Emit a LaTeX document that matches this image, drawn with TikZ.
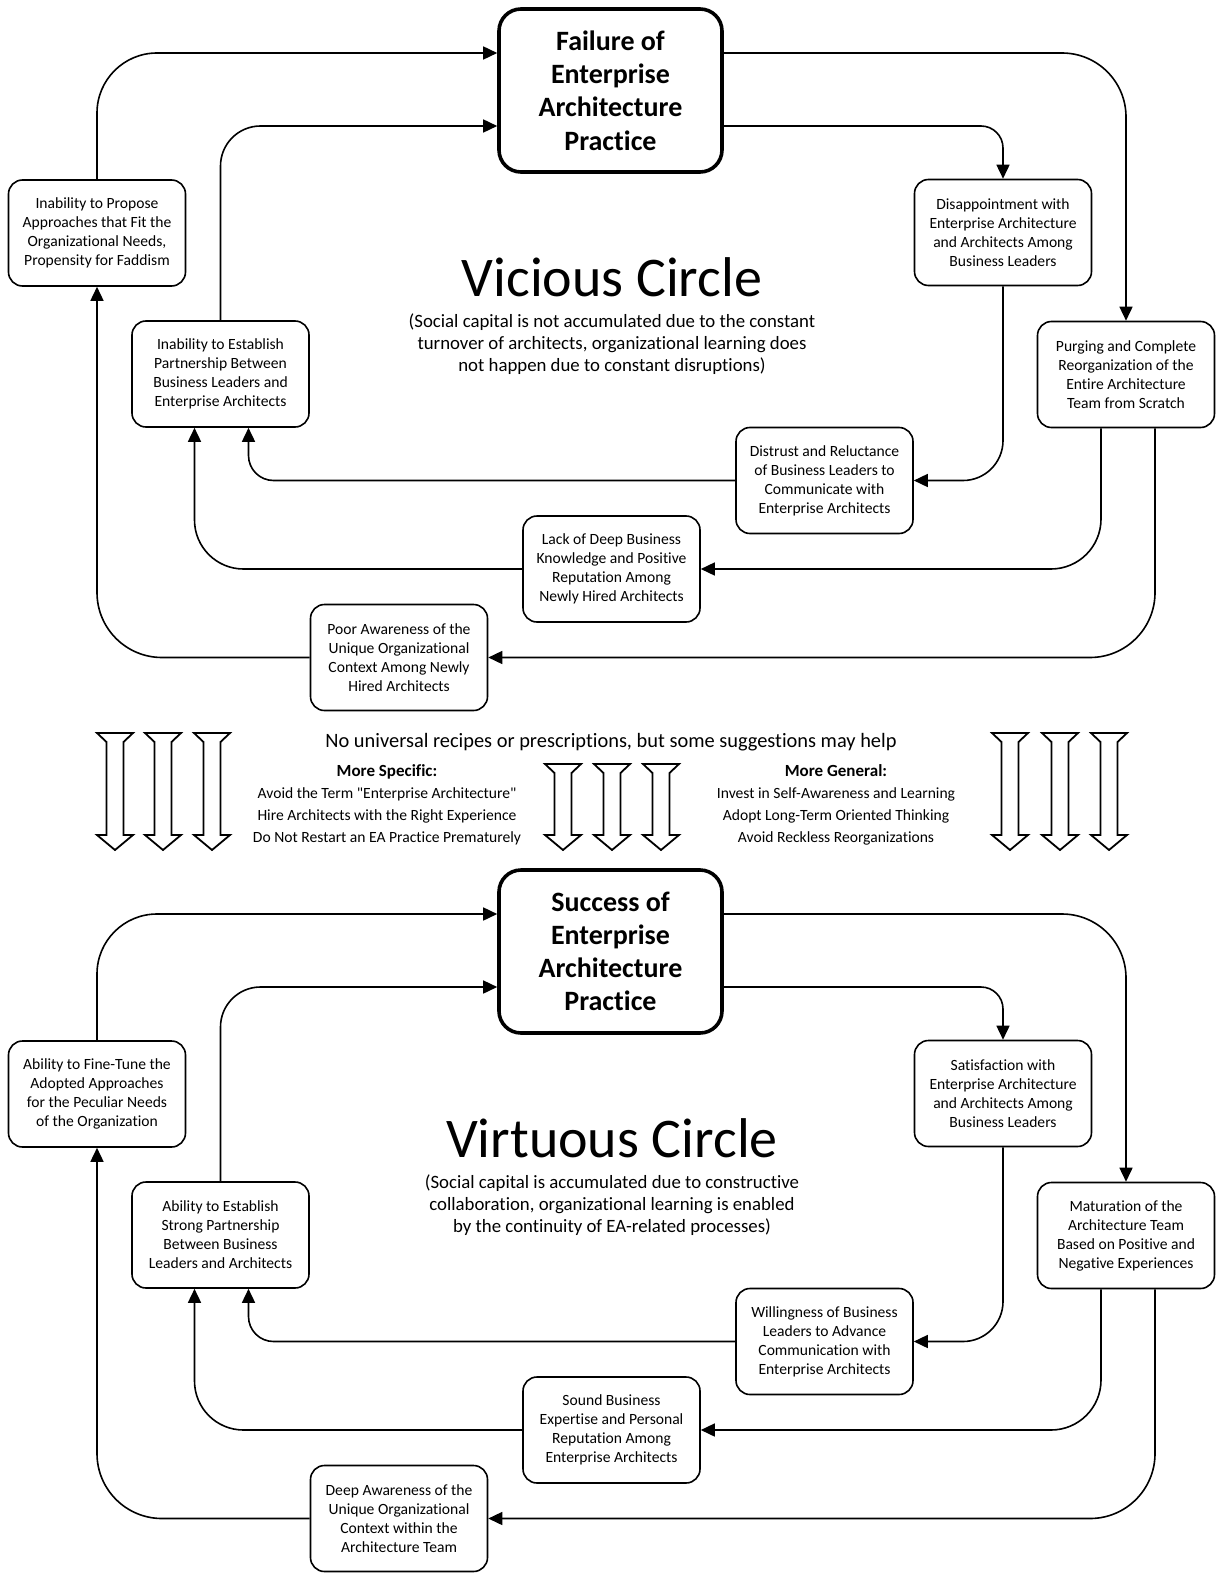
\documentclass[tikz,border=0pt]{standalone}
\usepackage{fontspec}
\setmainfont{Carlito}[Ligatures={TeX,NoCommon}]
\usepackage{tikz}
\usetikzlibrary{arrows.meta,calc}

\tikzset{
  factor/.style={draw, rounded corners=7pt, line width=0.8pt, align=center, inner sep=0pt,
    minimum width=88.5pt, minimum height=53pt, font=\fontsize{7.8}{9.5}\selectfont},
  outcome/.style={draw, rounded corners=11pt, line width=1.8pt, align=center, inner sep=0pt,
    minimum width=111.5pt, minimum height=81.5pt, font=\bfseries\fontsize{14}{16.6}\selectfont},
  conn/.style={line width=0.8pt, -{Triangle[length=7pt,width=6.5pt]}},
  hollow/.style={line width=0.9pt, line join=miter},
  circletitle/.style={font=\fontsize{28}{33}\selectfont, anchor=base},
  remark/.style={font=\fontsize{9.4}{11}\selectfont, align=center},
  hints/.style={font=\fontsize{7.8}{11}\selectfont, align=center},
}

\begin{document}
\begin{tikzpicture}[x=0.5pt, y=-0.5pt]
\useasboundingbox (0,0) rectangle (1215,1573);

% vicious circle
\node[outcome] (fail) at (610.5,90.5) {Failure of\\Enterprise\\Architecture\\Practice};
\node[factor] (propose) at (97,233) {Inability to Propose\\Approaches that Fit the\\Organizational Needs,\\Propensity for Faddism};
\node[factor] (partner) at (220.5,374) {Inability to Establish\\Partnership Between\\Business Leaders and\\Enterprise Architects};
\node[factor] (disappoint) at (1003,232.5) {Disappointment with\\Enterprise Architecture\\and Architects Among\\Business Leaders};
\node[factor] (purge) at (1126,374.5) {Purging and Complete\\Reorganization of the\\Entire Architecture\\Team from Scratch};
\node[factor] (distrust) at (824.5,480.5) {Distrust and Reluctance\\of Business Leaders to\\Communicate with\\Enterprise Architects};
\node[factor] (lack) at (611.5,569) {Lack of Deep Business\\Knowledge and Positive\\Reputation Among\\Newly Hired Architects};
\node[factor] (poor) at (399,657.5) {Poor Awareness of the\\Unique Organizational\\Context Among Newly\\Hired Architects};

\node[circletitle] (vicious) at (612,296) {Vicious Circle};
\node[remark] (viciousnote) at (612,344) {(Social capital is not accumulated due to the constant\\turnover of architects, organizational learning does\\not happen due to constant disruptions)};

\draw[conn, rounded corners=32pt] (fail.east |- 0,53) -| (purge.north);
\draw[conn, rounded corners=11pt] (fail.east |- 0,126) -| (disappoint.north);
\draw[conn, rounded corners=20pt] (disappoint.south) |- (distrust.east);
\draw[conn, rounded corners=12.5pt] (distrust.west) -| ([xshift=14pt]partner.south);
\draw[conn, rounded corners=25pt] ([xshift=-12.5pt]purge.south) |- (lack.east);
\draw[conn, rounded corners=24.5pt] (lack.west) -| ([xshift=-13pt]partner.south);
\draw[conn, rounded corners=32.5pt] ([xshift=14.5pt]purge.south) |- (poor.east);
\draw[conn, rounded corners=32.5pt] (poor.west) -| (propose.south);
\draw[conn, rounded corners=30pt] (propose.north) |- (fail.west |- 0,53);
\draw[conn, rounded corners=20pt] (partner.north) |- (fail.west |- 0,126);

% suggestions
\node[remark, font=\fontsize{10.2}{12}\selectfont] (recipes) at (611,742) {No universal recipes or prescriptions, but some suggestions may help};
\node[hints] (specific) at (387,805) {{\bfseries\fontsize{8.5}{11}\selectfont More Specific:}\\Avoid the Term \textquotedbl Enterprise Architecture\textquotedbl\\Hire Architects with the Right Experience\\Do Not Restart an EA Practice Prematurely};
\node[hints] (general) at (836,805) {{\bfseries\fontsize{8.5}{11}\selectfont More General:}\\Invest in Self-Awareness and Learning\\Adopt Long-Term Oriented Thinking\\Avoid Reckless Reorganizations};

\foreach \cx/\ty in {115/733,163/733,212/733,563/764,612/764,661/764,1010/733,1060/733,1109/733}
  \draw[hollow] (\cx-18,\ty) -- (\cx+18,\ty) -- (\cx+8.5,\ty+9) -- (\cx+8.5,835) -- (\cx+18,835)
    -- (\cx,850) -- (\cx-18,835) -- (\cx-8.5,835) -- (\cx-8.5,\ty+9) -- cycle;

% virtuous circle
\node[outcome] (success) at (610.5,951.5) {Success of\\Enterprise\\Architecture\\Practice};
\node[factor] (finetune) at (97,1094) {Ability to Fine-Tune the\\Adopted Approaches\\for the Peculiar Needs\\of the Organization};
\node[factor] (strong) at (220.5,1235) {Ability to Establish\\Strong Partnership\\Between Business\\Leaders and Architects};
\node[factor] (satisfy) at (1003,1093.5) {Satisfaction with\\Enterprise Architecture\\and Architects Among\\Business Leaders};
\node[factor] (mature) at (1126,1235.5) {Maturation of the\\Architecture Team\\Based on Positive and\\Negative Experiences};
\node[factor] (willing) at (824.5,1341.5) {Willingness of Business\\Leaders to Advance\\Communication with\\Enterprise Architects};
\node[factor] (sound) at (611.5,1430) {Sound Business\\Expertise and Personal\\Reputation Among\\Enterprise Architects};
\node[factor] (deep) at (399,1518.5) {Deep Awareness of the\\Unique Organizational\\Context within the\\Architecture Team};

\node[circletitle] (virtuous) at (612,1157) {Virtuous Circle};
\node[remark] (virtuousnote) at (612,1205) {(Social capital is accumulated due to constructive\\collaboration, organizational learning is enabled\\by the continuity of EA-related processes)};

\draw[conn, rounded corners=32pt] (success.east |- 0,914) -| (mature.north);
\draw[conn, rounded corners=11pt] (success.east |- 0,987) -| (satisfy.north);
\draw[conn, rounded corners=20pt] (satisfy.south) |- (willing.east);
\draw[conn, rounded corners=12.5pt] (willing.west) -| ([xshift=14pt]strong.south);
\draw[conn, rounded corners=25pt] ([xshift=-12.5pt]mature.south) |- (sound.east);
\draw[conn, rounded corners=24.5pt] (sound.west) -| ([xshift=-13pt]strong.south);
\draw[conn, rounded corners=32.5pt] ([xshift=14.5pt]mature.south) |- (deep.east);
\draw[conn, rounded corners=32.5pt] (deep.west) -| (finetune.south);
\draw[conn, rounded corners=30pt] (finetune.north) |- (success.west |- 0,914);
\draw[conn, rounded corners=20pt] (strong.north) |- (success.west |- 0,987);
\end{tikzpicture}
\end{document}
